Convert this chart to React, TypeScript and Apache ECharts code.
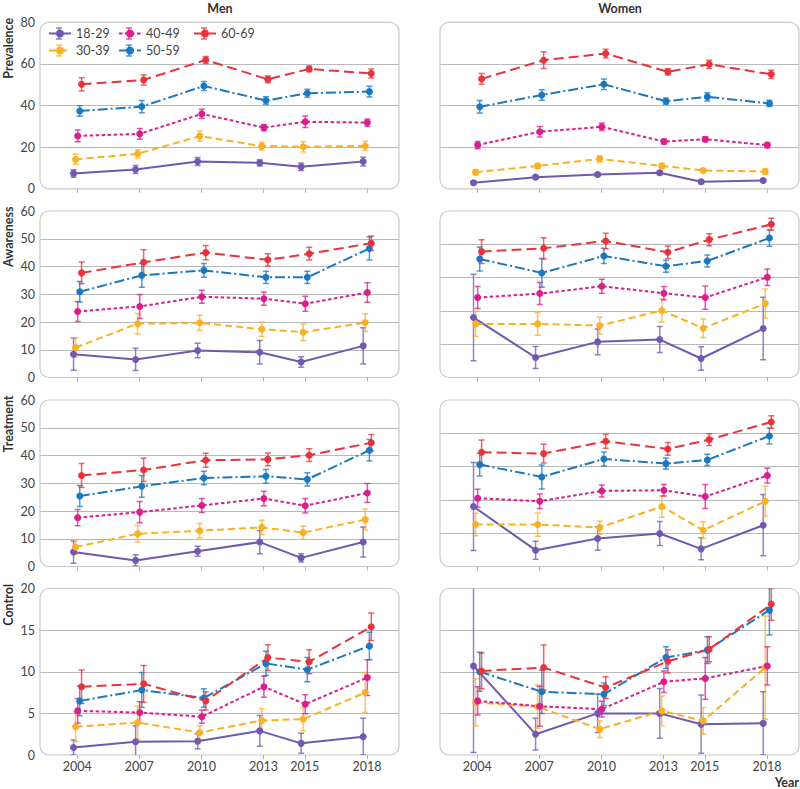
import React, { useEffect, useRef } from "react";
import * as echarts from "echarts";

const years = [2004, 2007, 2010, 2013, 2015, 2018];
const groups = ["18-29", "30-39", "40-49", "50-59", "60-69"];
const measures = ["Prevalence", "Awareness", "Treatment", "Control"];
const sexes = ["Men", "Women"];

// values [group][year] and half-widths of 95% CI
const menPrev = [
  [7.4, 9.3, 13.1, 12.5, 10.6, 13.1],
  [14.2, 16.8, 25.3, 20.5, 20.2, 20.6],
  [25.4, 26.4, 36.0, 29.4, 32.2, 31.8],
  [37.4, 39.5, 49.4, 42.4, 45.9, 46.7],
  [50.2, 52.3, 61.9, 52.6, 57.6, 55.4],
];
const menPrevErr = [
  [1.8, 1.9, 1.9, 1.5, 1.8, 2.1],
  [2.4, 2.0, 2.5, 1.8, 2.5, 2.2],
  [2.8, 2.6, 2.2, 1.5, 2.8, 1.7],
  [2.5, 2.9, 2.2, 1.8, 1.9, 2.6],
  [3.2, 2.4, 1.7, 1.6, 1.4, 2.2],
];
const womenPrev = [
  [2.9, 5.6, 6.9, 7.7, 3.4, 4.0],
  [8.0, 11.0, 14.4, 11.0, 8.8, 8.3],
  [21.0, 27.4, 29.8, 22.7, 23.8, 21.0],
  [39.4, 45.1, 50.2, 42.1, 44.2, 41.0],
  [52.8, 61.8, 65.0, 56.2, 59.8, 55.0],
];
const womenPrevErr = [
  [0.8, 0.8, 0.8, 0.9, 0.8, 0.8],
  [1.2, 1.2, 1.5, 1.2, 0.9, 1.3],
  [1.7, 2.5, 1.8, 1.2, 1.2, 1.3],
  [3.0, 2.5, 2.5, 1.5, 2.0, 1.5],
  [2.6, 4.0, 2.0, 1.5, 2.0, 2.0],
];
const menAware = [
  [8.4, 6.5, 9.7, 9.1, 5.6, 11.4],
  [10.8, 19.4, 19.7, 17.4, 16.3, 19.8],
  [23.8, 25.6, 29.1, 28.4, 26.6, 30.6],
  [30.9, 36.8, 38.6, 36.1, 36.1, 46.5],
  [37.7, 41.5, 45.0, 42.4, 44.6, 48.4],
];
const menAwareErr = [
  [5.8, 4.0, 2.6, 4.2, 1.9, 6.5],
  [3.5, 3.7, 2.7, 2.6, 3.0, 3.2],
  [3.6, 4.3, 2.3, 2.4, 2.7, 3.5],
  [3.7, 4.3, 2.5, 2.2, 2.2, 4.2],
  [3.9, 4.5, 2.6, 2.2, 2.3, 2.6],
];
const womenAware = [
  [18.0, 6.0, 10.7, 11.4, 5.7, 14.7],
  [16.1, 16.1, 15.6, 20.1, 14.8, 22.2],
  [24.0, 25.2, 27.4, 25.3, 24.0, 30.1],
  [35.6, 31.4, 36.5, 33.4, 35.0, 41.9],
  [37.8, 38.8, 41.0, 37.6, 41.4, 46.0],
];
const womenAwareErr = [
  [13.0, 3.3, 3.9, 3.9, 3.5, 9.4],
  [3.8, 3.4, 2.5, 3.5, 2.8, 4.4],
  [3.3, 3.3, 2.1, 2.0, 3.5, 2.5],
  [3.6, 4.3, 2.3, 1.8, 1.8, 2.5],
  [3.6, 3.2, 2.3, 1.9, 1.8, 1.8],
];
const menTreat = [
  [5.2, 2.2, 5.5, 8.8, 3.1, 8.8],
  [7.0, 11.8, 12.9, 14.1, 12.2, 16.9],
  [17.6, 19.6, 22.0, 24.5, 21.9, 26.5],
  [25.4, 28.9, 31.9, 32.5, 31.4, 41.9],
  [32.8, 34.8, 38.3, 38.6, 40.1, 44.6],
];
const menTreatErr = [
  [4.0, 2.0, 1.8, 4.2, 1.5, 5.4],
  [2.6, 3.0, 2.6, 2.6, 2.4, 3.8],
  [2.9, 3.8, 2.5, 2.6, 2.6, 3.4],
  [3.8, 3.9, 2.4, 2.5, 2.4, 3.9],
  [4.3, 4.2, 2.5, 2.3, 2.3, 3.0],
];
const womenTreat = [
  [18.0, 4.9, 8.4, 9.9, 5.3, 12.4],
  [12.6, 12.6, 11.7, 18.0, 10.9, 19.6],
  [20.5, 19.6, 22.7, 22.9, 21.0, 27.3],
  [30.6, 26.9, 32.3, 30.9, 32.0, 39.2],
  [34.3, 33.9, 37.6, 35.3, 38.1, 43.4],
];
const womenTreatErr = [
  [13.2, 2.7, 3.5, 3.6, 3.3, 9.2],
  [3.4, 3.5, 2.0, 3.2, 2.5, 4.5],
  [2.7, 2.2, 1.8, 1.7, 3.6, 2.2],
  [3.4, 3.6, 2.1, 1.7, 1.7, 2.4],
  [3.7, 2.8, 2.1, 1.9, 1.8, 1.9],
];
const menCtrl = [
  [0.9, 1.6, 1.65, 2.9, 1.4, 2.2],
  [3.4, 3.9, 2.7, 4.15, 4.3, 7.5],
  [5.3, 5.1, 4.6, 8.2, 6.1, 9.3],
  [6.5, 7.8, 6.85, 11.0, 10.25, 13.1],
  [8.2, 8.55, 6.5, 11.7, 11.2, 15.4],
];
const menCtrlErr = [
  [0.9, 1.9, 0.9, 1.85, 1.2, 2.2],
  [1.8, 2.0, 0.8, 1.4, 1.4, 2.4],
  [1.5, 1.3, 0.8, 1.25, 1.15, 2.15],
  [1.8, 2.1, 1.1, 1.45, 1.45, 1.65],
  [2.0, 2.2, 1.1, 1.55, 1.45, 1.65],
];
const womenCtrl = [
  [10.7, 2.5, 5.0, 5.0, 3.7, 3.8],
  [6.3, 5.8, 3.1, 5.3, 4.1, 10.5],
  [6.5, 5.85, 5.5, 8.8, 9.2, 10.7],
  [10.0, 7.6, 7.3, 11.7, 12.6, 17.4],
  [10.1, 10.5, 8.1, 11.25, 12.7, 18.1],
];
const womenCtrlErr = [
  [10.4, 1.9, 2.3, 3.0, 3.5, 3.8],
  [2.85, 2.6, 1.0, 1.8, 1.6, 6.2],
  [1.7, 2.4, 0.95, 1.3, 2.5, 2.3],
  [2.35, 2.6, 1.35, 1.3, 1.6, 3.0],
  [2.15, 2.7, 1.3, 1.4, 1.5, 1.9],
];

const menYMax = [80, 60, 60, 20];
const womenYMax = [80, 50, 50, 20];
const yInterval = [20, 10, 10, 5];

const colors = ["#7258b0", "#fbb024", "#d91e8e", "#1a78c0", "#e8333a"];
const dashes: any[] = ["solid", [7, 4], [3.5, 2.5], [10, 3, 2, 3], [10, 5]];
const dodge = [-0.18, -0.08, 0.02, 0.12, 0.21];

const FONT = "Lato, 'Open Sans', sans-serif";

export default function App() {
  const ref = useRef<HTMLDivElement>(null);
  useEffect(() => {
    if (!ref.current) return;
    const chart = echarts.init(ref.current, null, { renderer: "svg" });

    const panelData = [
      [[menPrev, menPrevErr], [womenPrev, womenPrevErr]],
      [[menAware, menAwareErr], [womenAware, womenAwareErr]],
      [[menTreat, menTreatErr], [womenTreat, womenTreatErr]],
      [[menCtrl, menCtrlErr], [womenCtrl, womenCtrlErr]],
    ];
    const lefts = [40, 440];
    const tops = [22.3, 211, 400, 588.5];
    const W = 359;
    const H = 166.5;

    const grid: any[] = [];
    const xAxis: any[] = [];
    const yAxis: any[] = [];
    const series: any[] = [];
    const graphic: any[] = [];

    for (let r = 0; r < 4; r++) {
      for (let c = 0; c < 2; c++) {
        const idx = r * 2 + c;
        grid.push({ left: lefts[c], top: tops[r], width: W, height: H, containLabel: false });
        graphic.push({
          type: "rect",
          z: -1,
          shape: { x: lefts[c], y: tops[r], width: W, height: H, r: 9 },
          style: { fill: "none", stroke: "#c8c8c8", lineWidth: 1.2 },
          silent: true,
        });
        xAxis.push({
          type: "value",
          gridIndex: idx,
          min: 2002.2,
          max: 2019.55,
          axisLine: { show: false },
          axisTick: {
            show: true,
            customValues: years,
            length: 4,
            lineStyle: { color: "#b0b0b0", width: 1 },
          },
          axisLabel: {
            show: r === 3,
            customValues: years,
            fontSize: 12.5,
            color: "#444",
            margin: 5,
            fontFamily: FONT,
            formatter: (v: number) => String(v),
          },
          splitLine: { show: false },
        });
        yAxis.push({
          type: "value",
          gridIndex: idx,
          min: 0,
          max: c === 0 ? menYMax[r] : womenYMax[r],
          interval: yInterval[r],
          axisLine: { show: false },
          axisTick: { show: false },
          axisLabel: {
            show: c === 0,
            fontSize: 12.5,
            color: "#444",
            margin: 5,
            fontFamily: FONT,
          },
          splitLine: {
            show: true,
            showMinLine: false,
            showMaxLine: false,
            lineStyle: { color: "#b9b9b9", width: 1 },
          },
        });
        const [vals, errs] = panelData[r][c] as number[][][];
        for (let g = 0; g < groups.length; g++) {
          const color = colors[g];
          series.push({
            type: "custom",
            name: groups[g] + " CI",
            xAxisIndex: idx,
            yAxisIndex: idx,
            clip: true,
            silent: true,
            z: 2,
            encode: { x: 0, y: [1, 2] },
            data: years.map((y, k) => [y + dodge[g], vals[g][k] - errs[g][k], vals[g][k] + errs[g][k]]),
            renderItem: (params: any, api: any) => {
              const x = api.value(0);
              const a = api.coord([x, api.value(1)]);
              const b = api.coord([x, api.value(2)]);
              const st = { stroke: color, lineWidth: 1.5, opacity: 0.75 };
              return {
                type: "group",
                children: [
                  { type: "line", shape: { x1: a[0], y1: a[1], x2: b[0], y2: b[1] }, style: st },
                  { type: "line", shape: { x1: a[0] - 3, y1: a[1], x2: a[0] + 3, y2: a[1] }, style: st },
                  { type: "line", shape: { x1: b[0] - 3, y1: b[1], x2: b[0] + 3, y2: b[1] }, style: st },
                ],
              };
            },
          });
          series.push({
            type: "line",
            name: groups[g],
            xAxisIndex: idx,
            yAxisIndex: idx,
            data: years.map((y, k) => [y + dodge[g], vals[g][k]]),
            symbol: "circle",
            symbolSize: 7,
            showSymbol: true,
            z: 3,
            lineStyle: { color, width: 2, type: dashes[g] },
            itemStyle: { color },
          });
        }
      }
    }

    // titles
    sexes.forEach((s, c) => {
      graphic.push({
        type: "text",
        x: lefts[c] + 180,
        y: 8,
        style: {
          text: s,
          textAlign: "center",
          textVerticalAlign: "middle",
          font: `bold 12.5px ${FONT}`,
          fill: "#333",
        },
      });
    });
    measures.forEach((m, r) => {
      graphic.push({
        type: "text",
        x: 8,
        y: tops[r] - 4.5,
        rotation: Math.PI / 2,
        style: {
          text: m,
          textAlign: "right",
          textVerticalAlign: "middle",
          font: `bold 12.5px ${FONT}`,
          fill: "#333",
        },
      });
    });
    graphic.push({
      type: "text",
      x: 799,
      y: 782,
      style: {
        text: "Year",
        textAlign: "right",
        textVerticalAlign: "middle",
        font: `bold 12.5px ${FONT}`,
        fill: "#333",
      },
    });

    const legendPos = [
      [48, 27],
      [48, 44],
      [118, 27],
      [118, 44],
      [193, 27],
    ];
    const legend = groups.map((g, i) => ({
      left: legendPos[i][0],
      top: legendPos[i][1],
      padding: 0,
      itemWidth: 22,
      itemHeight: 10,
      selectedMode: false,
      data: [g],
      textStyle: { fontSize: 12.5, color: "#444", fontFamily: FONT },
    }));
    // error-bar glyph on legend icons
    groups.forEach((g, i) => {
      const cx = legendPos[i][0] + 11;
      const cy = legendPos[i][1] + 6.5;
      const st = { stroke: colors[i], lineWidth: 1.5, opacity: 0.75 };
      graphic.push(
        { type: "line", z: 10, silent: true, shape: { x1: cx, y1: cy - 5.5, x2: cx, y2: cy + 5.5 }, style: st },
        { type: "line", z: 10, silent: true, shape: { x1: cx - 3, y1: cy - 5.5, x2: cx + 3, y2: cy - 5.5 }, style: st },
        { type: "line", z: 10, silent: true, shape: { x1: cx - 3, y1: cy + 5.5, x2: cx + 3, y2: cy + 5.5 }, style: st }
      );
    });

    chart.setOption({
      animation: false,
      backgroundColor: "#fff",
      textStyle: { fontFamily: FONT },
      grid,
      xAxis,
      yAxis,
      series,
      legend,
      graphic,
    });
    return () => chart.dispose();
  }, []);
  return (
    <div
      ref={ref}
      style={{ position: "fixed", left: 0, top: 0, width: 800, height: 789 }}
    />
  );
}
